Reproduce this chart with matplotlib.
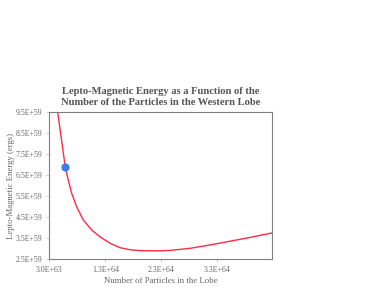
import matplotlib
matplotlib.use("Agg")
from matplotlib import pyplot as plt
import matplotlib.ticker as ticker

# values (particles in units of 1E63, energy in units of 1E59)
particles = [4.50, 5.86, 6.39, 7.00, 7.89, 9.07, 10.57, 12.05, 13.84, 15.63, 17.41,
             19.20, 22.77, 24.55, 28.13, 31.70, 35.27, 38.84, 42.71]
energy    = [9.50, 6.87, 6.26, 5.63, 4.99, 4.36, 3.88, 3.56, 3.25, 3.04, 2.94,
             2.90, 2.89, 2.91, 3.01, 3.17, 3.35, 3.53, 3.74]
point_particles = [5.86]
point_energy    = [6.87]

x_ticks = [3e63, 1.3e64, 2.3e64, 3.3e64]
y_ticks = [2.5e59, 3.5e59, 4.5e59, 5.5e59, 6.5e59, 7.5e59, 8.5e59, 9.5e59]


def sci_fmt(v, pos):
    mant, exp = f"{v:.1E}".split("E")
    return "%sE+%d" % (mant, int(exp))


gray = "#7f7f7f"
text_gray = "#666666"
plt.rcParams['font.family'] = ['Liberation Serif', 'DejaVu Serif']

fig = plt.figure(figsize=(3.74, 2.89), dpi=100)
ax = fig.add_axes([49.3/374, 1 - 259/289, (271.7-49.3)/374, (259-112.3)/289])

ax.plot([p*1e63 for p in particles], [e*1e59 for e in energy], color="#ff2a44",
        lw=1.0, solid_joinstyle="round", solid_capstyle="round")
ax.scatter([p*1e63 for p in point_particles], [e*1e59 for e in point_energy],
           s=24, color="#3a7de8", zorder=3)

ax.set_xlim(3e63, 4.27e64)
ax.set_ylim(2.5e59, 9.5e59)
ax.set_xticks(x_ticks)
ax.set_yticks(y_ticks)
ax.xaxis.set_major_formatter(ticker.FuncFormatter(sci_fmt))
ax.yaxis.set_major_formatter(ticker.FuncFormatter(sci_fmt))

for s in ax.spines.values():
    s.set_color(gray)
    s.set_linewidth(0.8)
ax.tick_params(colors="#bbbbbb", labelcolor=text_gray, labelsize=5.7, length=2, width=0.5, pad=3)

ax.set_xlabel("Number of Particles in the Lobe", fontsize=6.3, color=text_gray, labelpad=2)
ax.set_ylabel("Lepto-Magnetic Energy (ergs)", fontsize=6.3, color=text_gray)
ax.yaxis.set_label_coords(-34.3/222.4, 0.5)
ax.set_title("Lepto-Magnetic Energy as a Function of the\nNumber of the Particles in the Western Lobe",
             fontsize=7.6, fontweight="bold", color="#555555", pad=5, linespacing=1.3)

fig.savefig("out.png", dpi=100)
